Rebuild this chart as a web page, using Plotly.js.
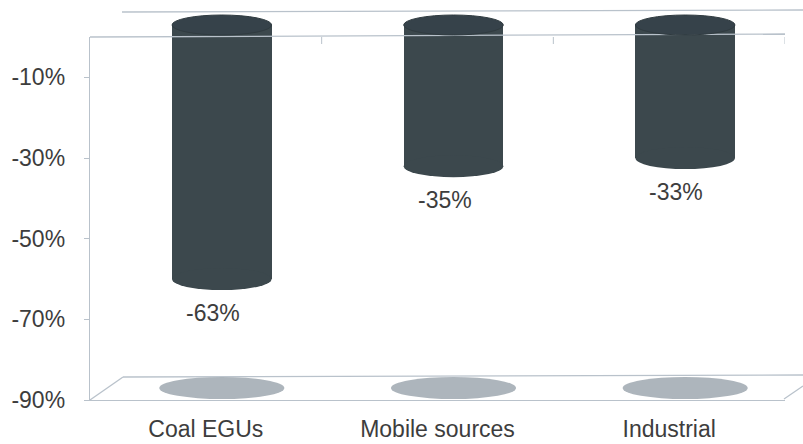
<!DOCTYPE html>
<html>
<head>
<meta charset="utf-8">
<script src="https://cdn.plot.ly/plotly-3.0.1.min.js"></script>
<style>
html,body{margin:0;padding:0;background:#fff;}
#chart{width:803px;height:444px;}
</style>
</head>
<body>
<div id="chart"></div>
<script>
// ---- data ----
const categories = ['Coal EGUs', 'Mobile sources', 'Industrial'];
const reductions = [-63, -35, -33];
const tickValues = [-10, -30, -50, -70, -90];
const tickLabels = ['-10%', '-30%', '-50%', '-70%', '-90%'];

// ---- layout helpers (pixels -> paper) ----
const W = 803, H = 444;
const px = v => v / W;
const py = v => (H - v) / H;

const frameColor = '#b9c2cb';
const barColor = '#3c484d';
const shadowColor = '#a9b1b8';
const textColor = '#3d3d3d';
const fontFam = 'Liberation Sans, Arial, sans-serif';
const fontSize = 23;

const bars = {
  type: 'bar',
  x: categories,
  y: reductions,
  xaxis: 'x2',
  yaxis: 'y2',
  width: 0.43,
  marker: {color: barColor, line: {width: 0}},
  hoverinfo: 'skip',
  showlegend: false
};

// invisible trace to establish front axes
const front = {
  type: 'scatter',
  x: categories,
  y: reductions,
  xaxis: 'x',
  yaxis: 'y',
  mode: 'none',
  hoverinfo: 'skip',
  showlegend: false
};

const shapes = [];
const line = (x0, y0, x1, y1, layer) => ({
  type: 'line', xref: 'paper', yref: 'paper',
  x0: px(x0), y0: py(y0), x1: px(x1), y1: py(y1),
  line: {color: frameColor, width: 1.3}, layer: layer || 'below'
});
shapes.push(line(122, 12, 803, 10));
shapes.push(line(123, 377, 803, 375));
shapes.push(line(90, 400, 123, 377));
shapes.push(line(784, 399, 803, 386));
shapes.push(line(90, 37, 785, 34, 'above'));

categories.forEach((c, i) => {
  const v = reductions[i];
  shapes.push({
    type: 'circle', xref: 'x2', yref: 'y2', layer: 'below',
    x0: i - 0.27, x1: i + 0.27,
    ysizemode: 'pixel', yanchor: -90, y0: -11, y1: 11,
    fillcolor: shadowColor, line: {width: 0}, opacity: 0.95
  });
  shapes.push({
    type: 'circle', xref: 'x2', yref: 'y2', layer: 'above',
    x0: i - 0.215, x1: i + 0.215,
    ysizemode: 'pixel', yanchor: v, y0: -11, y1: 11,
    fillcolor: barColor, line: {width: 0}
  });
  shapes.push({
    type: 'circle', xref: 'x2', yref: 'y2', layer: 'above',
    x0: i - 0.215, x1: i + 0.215,
    ysizemode: 'pixel', yanchor: 0, y0: -10, y1: 10,
    fillcolor: '#36424a', line: {color: '#303b40', width: 1}
  });
  shapes.push({
    type: 'line', xref: 'x', yref: 'y', layer: 'above',
    x0: i + 0.5, x1: i + 0.5,
    ysizemode: 'pixel', yanchor: 0, y0: -7, y1: 0,
    line: {color: frameColor, width: 1}
  });
});

const annotations = categories.map((c, i) => ({
  xref: 'x', yref: 'y',
  x: i, y: reductions[i],
  text: reductions[i] + '%',
  showarrow: false,
  xanchor: 'center', yanchor: 'middle',
  xshift: 7, yshift: -22,
  font: {family: fontFam, size: fontSize, color: textColor}
}));

const layout = {
  width: W, height: H,
  margin: {l: 0, r: 0, t: 0, b: 0},
  paper_bgcolor: '#fff',
  plot_bgcolor: 'rgba(0,0,0,0)',
  showlegend: false,
  bargap: 0,
  xaxis: {
    domain: [px(90), px(785)],
    type: 'category',
    categoryorder: 'array', categoryarray: categories,
    range: [-0.5, 2.5],
    anchor: 'y',
    showline: true, linecolor: frameColor, linewidth: 1.3,
    ticks: '', showgrid: false, zeroline: false,
    tickfont: {family: fontFam, size: fontSize, color: textColor},
    ticklabelstandoff: 8,
    fixedrange: true
  },
  yaxis: {
    domain: [py(400), py(37)],
    range: [-90, 0],
    anchor: 'x',
    tickmode: 'array', tickvals: tickValues, ticktext: tickLabels,
    showline: true, linecolor: frameColor, linewidth: 1.3,
    ticks: 'outside', ticklen: 5, tickcolor: frameColor,
    showgrid: false, zeroline: false,
    tickfont: {family: fontFam, size: fontSize, color: textColor},
    ticklabelstandoff: 14,
    fixedrange: true
  },
  xaxis2: {
    domain: [px(106), px(801)],
    type: 'category',
    categoryorder: 'array', categoryarray: categories,
    range: [-0.5, 2.5],
    anchor: 'y2',
    visible: false, fixedrange: true
  },
  yaxis2: {
    domain: [py(388 + 3.5 * 363 / 90), py(25 - 3 * 363 / 90)],
    range: [-93.5, 3],
    anchor: 'x2',
    visible: false, fixedrange: true
  },
  shapes: shapes,
  annotations: annotations
};

Plotly.newPlot('chart', [front, bars], layout, {displayModeBar: false, staticPlot: true});
</script>
</body>
</html>
